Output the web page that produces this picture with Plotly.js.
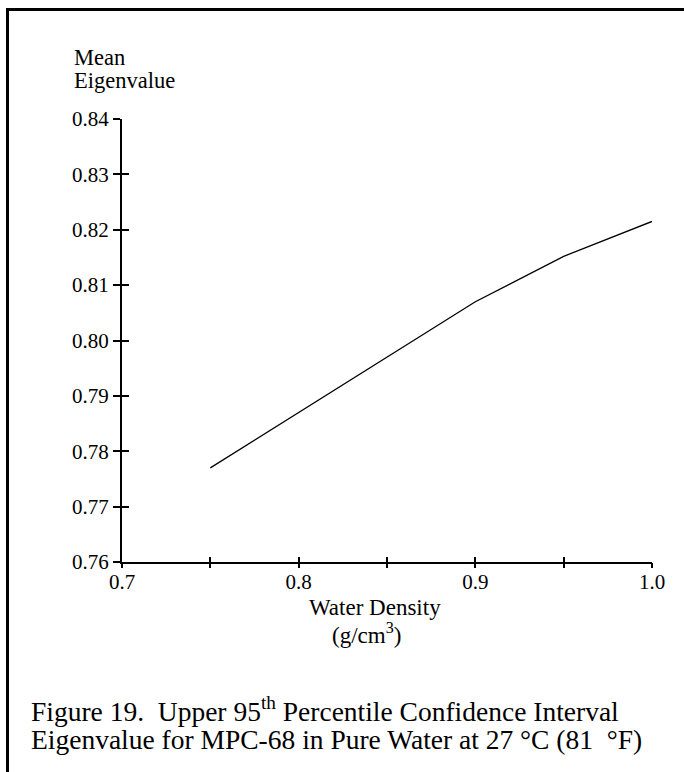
<!DOCTYPE html>
<html>
<head>
<meta charset="utf-8">
<script src="https://cdn.plot.ly/plotly-3.0.1.min.js"></script>
<style>
  html, body { margin: 0; padding: 0; background: #fff; }
  #frame { position: absolute; left: 6px; top: 8px; width: 690px; height: 780px;
           border-left: 3px solid #000; border-top: 3px solid #000; }
  #chart { position: absolute; left: 0; top: 0; width: 684px; height: 772px; }
</style>
</head>
<body>
<div id="frame"></div>
<div id="chart"></div>
<script>
// Data
const waterDensity = [0.75, 0.80, 0.85, 0.90, 0.95, 1.00];
const meanEigenvalue = [0.777, 0.787, 0.797, 0.807, 0.8152, 0.8215];

const xTickVals = [0.7, 0.75, 0.8, 0.85, 0.9, 0.95, 1.0];
const xLabelVals = [0.7, 0.8, 0.9, 1.0];
const xLabelText = ["0.7", "0.8", "0.9", "1.0"];
const yTickVals = [0.76, 0.77, 0.78, 0.79, 0.80, 0.81, 0.82, 0.83, 0.84];
const yTickText = ["0.76", "0.77", "0.78", "0.79", "0.80", "0.81", "0.82", "0.83", "0.84"];

const yTitleLines = ["Mean", "Eigenvalue"];
const xTitleLines = ["Water Density", "(g/cm<sup>3</sup>)"];
const captionLines = ["Figure 19.  Upper 95<sup>th</sup> Percentile Confidence Interval",
                      "Eigenvalue for MPC-68 in Pure Water at 27 °C (81  °F)"];

const FONT = "Liberation Serif";

const trace = {
  x: waterDensity, y: meanEigenvalue, type: "scatter", mode: "lines",
  line: { color: "#000", width: 1.3 }, hoverinfo: "skip", showlegend: false
};

const axBase = {
  showgrid: false, zeroline: false, showline: true, linecolor: "#000", linewidth: 2,
  tickcolor: "#000", tickwidth: 2, ticklen: 7, ticks: "outside",
  tickfont: { family: FONT, size: 21, color: "#000" }, tickmode: "array"
};

const layout = {
  width: 684, height: 772,
  margin: { l: 122, r: 32, t: 119, b: 210 },
  paper_bgcolor: "rgba(0,0,0,0)", plot_bgcolor: "rgba(0,0,0,0)",
  font: { family: FONT, color: "#000" },
  xaxis: Object.assign({}, axBase, {
    range: [0.7, 1.0], tickvals: xLabelVals, ticktext: xLabelText,
    ticks: "inside", ticklen: 5
  }),
  yaxis: Object.assign({}, axBase, {
    range: [0.76, 0.84], tickvals: yTickVals, ticktext: yTickText
  }),
  xaxis2: Object.assign({}, axBase, {
    overlaying: "x", matches: "x", range: [0.7, 1.0], tickvals: xTickVals,
    ticks: "outside", ticklen: 5, showticklabels: false, showline: false
  }),
  xaxis3: Object.assign({}, axBase, {
    overlaying: "x", matches: "x", range: [0.7, 1.0], tickvals: xTickVals,
    ticks: "inside", ticklen: 5, showticklabels: false, showline: false
  }),
  yaxis2: Object.assign({}, axBase, {
    overlaying: "y", matches: "y", range: [0.76, 0.84], tickvals: yTickVals,
    ticks: "inside", ticklen: 7, showticklabels: false, showline: false
  }),
  annotations: [
    { xref: "paper", yref: "paper", x: -0.0943, y: 1.1377, xanchor: "left", yanchor: "middle",
      text: yTitleLines[0], showarrow: false, font: { family: FONT, size: 22.5 } },
    { xref: "paper", yref: "paper", x: -0.0943, y: 1.0858, xanchor: "left", yanchor: "middle",
      text: yTitleLines[1], showarrow: false, font: { family: FONT, size: 22.5 } },
    { xref: "paper", yref: "paper", x: 0.4774, y: -0.1038, xanchor: "center", yanchor: "middle",
      text: xTitleLines[0], showarrow: false, font: { family: FONT, size: 23 } },
    { xref: "paper", yref: "paper", x: 0.4604, y: -0.1625, xanchor: "center", yanchor: "middle",
      text: xTitleLines[1], showarrow: false, font: { family: FONT, size: 23 } },
    { xref: "paper", yref: "paper", x: -0.1755, y: -0.334, xanchor: "left", yanchor: "middle",
      text: captionLines[0], showarrow: false, font: { family: FONT, size: 27.5 } },
    { xref: "paper", yref: "paper", x: -0.1755, y: -0.4018, xanchor: "left", yanchor: "middle",
      text: captionLines[1], showarrow: false, font: { family: FONT, size: 27.5 } }
  ]
};

const trace2 = { x: [], y: [], xaxis: "x2", yaxis: "y2", type: "scatter", showlegend: false };
const trace3 = { x: [], y: [], xaxis: "x3", yaxis: "y2", type: "scatter", showlegend: false };

Plotly.newPlot("chart", [trace, trace2, trace3], layout, { staticPlot: true, displayModeBar: false });
</script>
</body>
</html>
